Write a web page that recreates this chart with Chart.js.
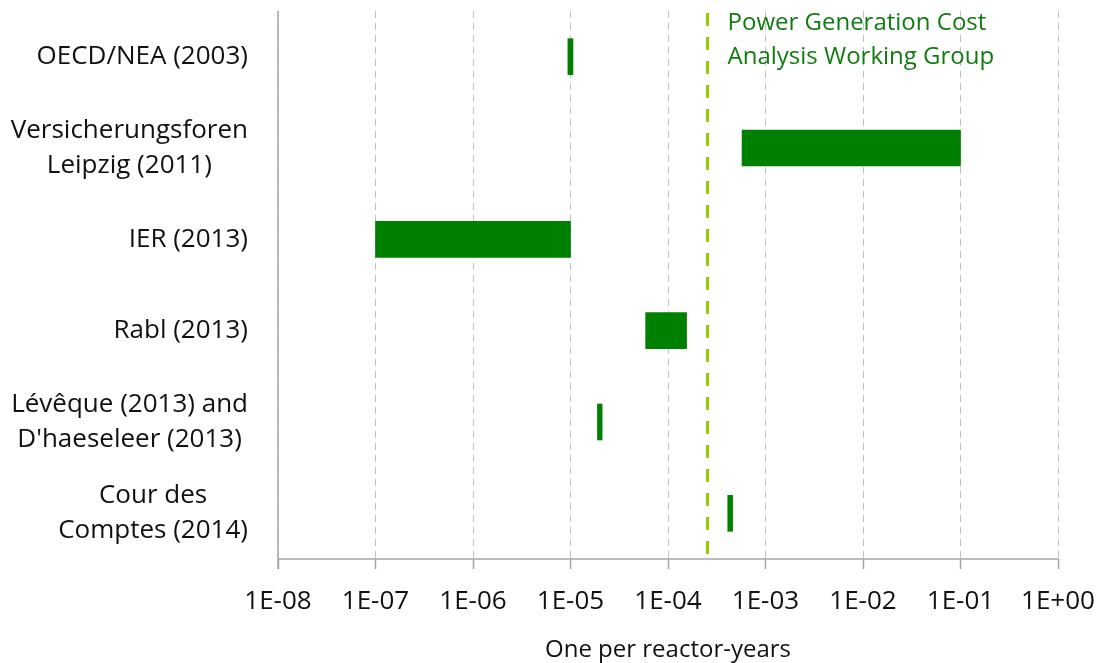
<!DOCTYPE html>
<html>
<head>
<meta charset="utf-8">
<script src="https://cdn.jsdelivr.net/npm/chart.js@4.4.1/dist/chart.umd.min.js"></script>
<style>
  html, body { margin: 0; padding: 0; background: #fff; }
  #wrap { width: 1107px; height: 663px; position: relative; }
</style>
</head>
<body>
<div id="wrap"><canvas id="c"></canvas></div>
<script>
// ---- Data ----
const categories = [
  ['OECD/NEA (2003)'],
  ['Versicherungsforen', 'Leipzig (2011)'],
  ['IER (2013)'],
  ['Rabl (2013)'],
  ['Lévêque (2013) and', "D'haeseleer (2013)"],
  ['Cour des', 'Comptes (2014)']
];
const rangeStart = [9.4e-6, 5.75e-4, 1e-7, 5.9e-5, 1.89e-5, 4.1e-4];
const rangeEnd   = [1.06e-5, 1e-1, 1e-5, 1.55e-4, 2.11e-5, 4.6e-4];
const tickValues = [1e-8, 1e-7, 1e-6, 1e-5, 1e-4, 1e-3, 1e-2, 1e-1, 1];
const tickLabels = ['1E-08', '1E-07', '1E-06', '1E-05', '1E-04', '1E-03', '1E-02', '1E-01', '1E+00'];
const thresholdValue = 2.5e-4;
const thresholdLabel = ['Power Generation Cost', 'Analysis Working Group'];
const xAxisTitle = 'One per reactor-years';

const FONT = '"Open Sans", "Noto Sans", sans-serif';

const rangeData = rangeStart.map((s, i) => [s, rangeEnd[i]]);

const overlayPlugin = {
  id: 'overlay',
  afterDatasetsDraw(chart) {
    const ctx = chart.ctx;
    const xs = chart.scales.x, area = chart.chartArea;
    // axis lines (solid)
    ctx.save();
    ctx.strokeStyle = '#a6a6a6';
    ctx.lineWidth = 1.5;
    ctx.setLineDash([]);
    ctx.beginPath();
    ctx.moveTo(area.left, area.top);
    ctx.lineTo(area.left, area.bottom + 10);
    ctx.moveTo(area.left, area.bottom);
    ctx.lineTo(area.right, area.bottom);
    ctx.stroke();
    // threshold line
    const tx = Math.round(xs.getPixelForValue(thresholdValue)) + 0.5;
    ctx.strokeStyle = '#99cc00';
    ctx.lineWidth = 3;
    ctx.setLineDash([13, 11]);
    ctx.beginPath();
    ctx.moveTo(tx, area.top + 2);
    ctx.lineTo(tx, area.bottom);
    ctx.stroke();
    ctx.setLineDash([]);
    // threshold label
    ctx.fillStyle = '#107c10';
    ctx.font = '24px ' + FONT;
    ctx.textAlign = 'left';
    ctx.textBaseline = 'middle';
    thresholdLabel.forEach((t, i) => ctx.fillText(t, tx + 20, 23 + i * 34));
    ctx.restore();
  },
  afterDraw(chart) {
    // category labels: block right-aligned, lines centred within block
    const ctx = chart.ctx;
    const ys = chart.scales.y, area = chart.chartArea;
    ctx.save();
    ctx.font = '26px ' + FONT;
    ctx.fillStyle = '#111';
    ctx.textAlign = 'center';
    ctx.textBaseline = 'middle';
    const right = area.left - 30;
    const lh = 35;
    categories.forEach((lines, i) => {
      const cy = ys.getPixelForTick(i);
      const w = Math.max(...lines.map(l => ctx.measureText(l).width));
      const cx = right - w / 2;
      const y0 = cy - (lines.length - 1) * lh / 2;
      lines.forEach((l, j) => ctx.fillText(l, cx, y0 + j * lh));
    });
    ctx.restore();
  }
};

new Chart(document.getElementById('c'), {
  type: 'bar',
  data: {
    labels: categories,
    datasets: [{
      data: rangeData,
      backgroundColor: '#008000',
      borderWidth: 0,
      barThickness: 36,
      borderSkipped: false
    }]
  },
  options: {
    indexAxis: 'y',
    responsive: true,
    maintainAspectRatio: false,
    animation: false,
    layout: { padding: { top: 11, right: 49, left: 0, bottom: 0 } },
    plugins: { legend: { display: false }, tooltip: { enabled: false } },
    scales: {
      x: {
        type: 'logarithmic',
        min: 1e-8,
        max: 1,
        afterBuildTicks(scale) {
          scale.ticks = tickValues.map(v => ({ value: v }));
        },
        afterFit(scale) {
          scale.height = 104;
          scale.paddingLeft = 0;
          scale.paddingRight = 0;
        },
        ticks: {
          autoSkip: false,
          maxRotation: 0,
          padding: 17,
          color: '#111',
          font: { family: FONT, size: 26 },
          callback: (v, i) => tickLabels[i]
        },
        grid: {
          color: '#c0c0c0',
          lineWidth: 1,
          drawTicks: true,
          tickLength: 10,
          tickColor: '#a6a6a6',
          tickBorderDash: [],
          tickWidth: 1.5
        },
        border: { display: false, dash: [7, 5] },
        title: {
          display: true,
          text: xAxisTitle,
          color: '#111',
          font: { family: FONT, size: 24 },
          padding: { top: 0, bottom: -2 }
        }
      },
      y: {
        type: 'category',
        afterFit(scale) { scale.width = 278; },
        ticks: { display: false },
        grid: { display: false, drawTicks: false },
        border: { display: false }
      }
    }
  },
  plugins: [overlayPlugin]
});
</script>
</body>
</html>
